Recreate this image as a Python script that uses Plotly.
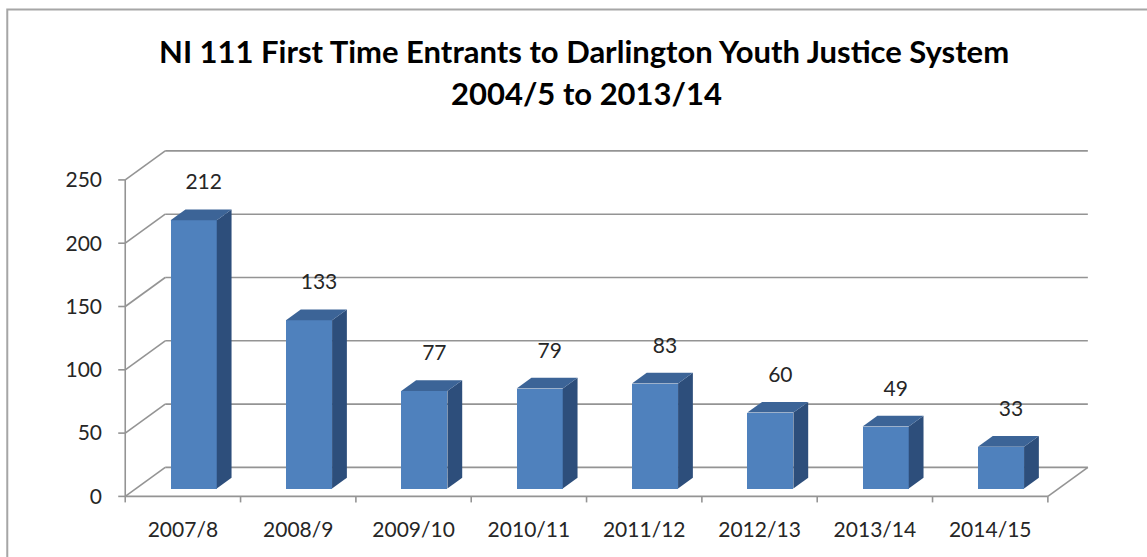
import plotly.graph_objects as go

categories = ["2007/8", "2008/9", "2009/10", "2010/11", "2011/12", "2012/13", "2013/14", "2014/15"]
values = [212, 133, 77, 79, 83, 60, 49, 33]
y_ticks = [0, 50, 100, 150, 200, 250]
title_line1 = "NI 111 First Time Entrants to Darlington Youth Justice System"
title_line2 = "2004/5 to 2013/14"

W, H = 1147, 557
X0PX, XUNIT = 125.0, 115.375   # pixel of x=0, px per category
Y0PX, YUNIT = 496.0, 1.266     # pixel of y=0, px per unit
XR = [-0.08, 8.4]
YR = [-6, 276]
ml = X0PX + XR[0] * XUNIT
mr = W - (X0PX + XR[1] * XUNIT)
mt = Y0PX - YR[1] * YUNIT
mb = H - (Y0PX - YR[0] * YUNIT)

DX = 40 / XUNIT     # depth offset in x data units
DY = 29 / YUNIT     # depth offset in y data units
F0, F1 = 0.27, 0.64  # bar front/back depth fraction
BW = 0.40

FRONT = "#4f81bd"
SIDE = "#2d4e7b"
TOP = "#3c6497"
GRID = "#949494"
TXT = "#262626"
FONT = "Lato"

n = len(categories)
fig = go.Figure()

shapes = []
def seg(x0, y0, x1, y1):
    shapes.append(dict(type="line", xref="x", yref="y", x0=x0, y0=y0, x1=x1, y1=y1,
                       line=dict(color=GRID, width=1.6), layer="below"))

for t in y_ticks:
    seg(DX, t + DY, n + DX, t + DY)     # back wall
    seg(0, t, DX, t + DY)               # left wall diagonal
    seg(-7 / XUNIT, t, 0, t)            # y tick
seg(0, 0, n, 0)                          # floor front edge
seg(n, 0, n + DX, DY)                    # floor right edge
seg(0, 0, 0, y_ticks[-1])                # y axis
for k in range(n + 1):
    seg(k, 0, k, -6 / YUNIT)             # x ticks

# front faces
fig.add_trace(go.Bar(
    x=[i + 0.5 + F0 * DX for i in range(n)], y=values, base=F0 * DY, width=BW,
    marker=dict(color=FRONT, line=dict(width=0)), hoverinfo="skip", showlegend=False))

dd_x = (F1 - F0) * DX
dd_y = (F1 - F0) * DY
for i, v in enumerate(values):
    xl = i + 0.5 - BW / 2 + F0 * DX
    xr = i + 0.5 + BW / 2 + F0 * DX
    y0 = F0 * DY
    y1 = F0 * DY + v
    fig.add_trace(go.Scatter(
        x=[xr, xr, xr + dd_x, xr + dd_x, xr], y=[y0, y1, y1 + dd_y, y0 + dd_y, y0],
        mode="lines", fill="toself", fillcolor=SIDE, line=dict(width=0, color=SIDE),
        hoverinfo="skip", showlegend=False))
    fig.add_trace(go.Scatter(
        x=[xl, xr, xr + dd_x, xl + dd_x, xl], y=[y1, y1, y1 + dd_y, y1 + dd_y, y1],
        mode="lines", fill="toself", fillcolor=TOP, line=dict(width=0, color=TOP),
        hoverinfo="skip", showlegend=False))

# data labels
fig.add_trace(go.Scatter(
    x=[i + 0.5 + F0 * DX + 10 / XUNIT for i in range(n)],
    y=[F0 * DY + v + 36 / YUNIT for v in values],
    mode="text", text=[str(v) for v in values], textposition="middle center",
    textfont=dict(family=FONT, size=21, color=TXT), cliponaxis=False,
    hoverinfo="skip", showlegend=False))

def paper_x(px):
    return (px - ml) / (W - ml - mr)
def paper_y(py):
    return ((H - mb) - py) / (H - mt - mb)

annotations = [
    dict(text="<b>" + title_line1 + "</b>", x=paper_x(584), y=paper_y(51), xref="paper", yref="paper",
         showarrow=False, xanchor="center", yanchor="middle", font=dict(family=FONT, size=31, color="#000")),
    dict(text="<b>" + title_line2 + "</b>", x=paper_x(586), y=paper_y(93), xref="paper", yref="paper",
         showarrow=False, xanchor="center", yanchor="middle", font=dict(family=FONT, size=31, color="#000")),
]

shapes.append(dict(type="rect", xref="paper", yref="paper",
                   x0=paper_x(7), y0=paper_y(9), x1=paper_x(W + 20), y1=paper_y(H + 20),
                   line=dict(color="#a6a6a6", width=2), layer="above"))

fig.update_layout(
    width=W, height=H, margin=dict(l=ml, r=mr, t=mt, b=mb, autoexpand=False),
    paper_bgcolor="white", plot_bgcolor="white",
    xaxis=dict(range=XR, showgrid=False, zeroline=False, showline=False,
               tickmode="array", tickvals=[i + 0.5 for i in range(n)], ticktext=categories,
               ticks="", ticklabelstandoff=11, tickfont=dict(family=FONT, size=21, color=TXT)),
    yaxis=dict(range=YR, showgrid=False, zeroline=False, showline=False,
               tickmode="array", tickvals=y_ticks, ticks="", ticklabelstandoff=13,
               tickfont=dict(family=FONT, size=21, color=TXT)),
    shapes=shapes, annotations=annotations, showlegend=False, bargap=0,
)

fig.write_html("out.html")
